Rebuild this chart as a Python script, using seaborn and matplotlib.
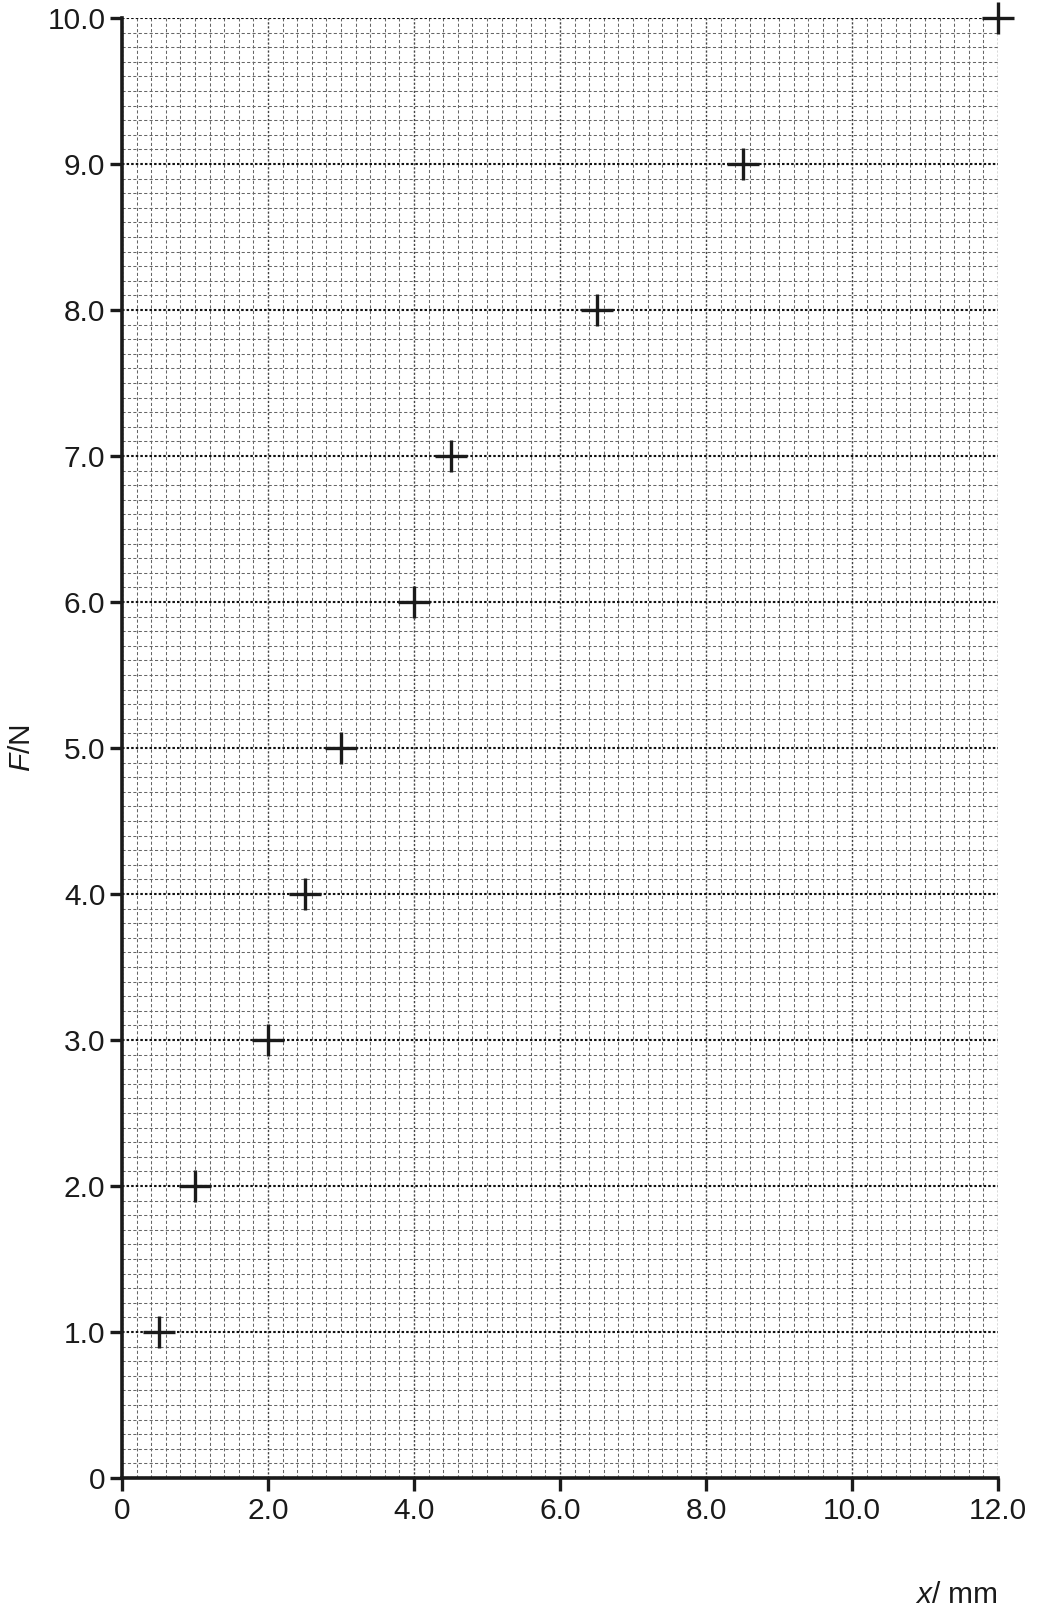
import numpy as np
import pandas as pd
import matplotlib
matplotlib.use("Agg")
import matplotlib.pyplot as plt
from matplotlib.ticker import MultipleLocator, FixedLocator
import seaborn as sns

# data
x_mm = [0.5, 1.0, 2.0, 2.5, 3.0, 4.0, 4.5, 6.5, 8.5, 12.0]
F_N = [1.0, 2.0, 3.0, 4.0, 5.0, 6.0, 7.0, 8.0, 9.0, 10.0]
x_ticks = [0, 2, 4, 6, 8, 10, 12]
x_tick_labels = ["0", "2.0", "4.0", "6.0", "8.0", "10.0", "12.0"]
y_ticks = [0, 1, 2, 3, 4, 5, 6, 7, 8, 9, 10]
y_tick_labels = ["0", "1.0", "2.0", "3.0", "4.0", "5.0", "6.0", "7.0", "8.0", "9.0", "10.0"]

sns.set_style("white")
plt.rcParams["font.family"] = ["Liberation Sans", "DejaVu Sans"]
plt.rcParams["mathtext.fontset"] = "custom"
plt.rcParams["mathtext.it"] = "Liberation Sans:italic"
plt.rcParams["mathtext.rm"] = "Liberation Sans"

df = pd.DataFrame({"x": x_mm, "F": F_N})

fig = plt.figure(figsize=(10.64, 16.18), dpi=100)
ax = fig.add_axes([122 / 1064, 1 - 1478 / 1618, (998 - 122) / 1064, (1478 - 18) / 1618])

ax.set_xlim(0, 12)
ax.set_ylim(0, 10)

# grid
ax.xaxis.set_major_locator(FixedLocator(x_ticks))
ax.yaxis.set_major_locator(FixedLocator(y_ticks))
ax.xaxis.set_minor_locator(MultipleLocator(0.2))
ax.yaxis.set_minor_locator(MultipleLocator(0.1))
ax.grid(which="minor", color="#666666", linestyle=(0, (3.0, 2.2)), linewidth=0.75)
ax.grid(which="major", axis="y", color="#111111", linestyle=(0, (1.2, 1.0)), linewidth=1.5)
ax.grid(which="major", axis="x", color="#444444", linestyle=(0, (1.6, 1.3)), linewidth=1.0)
ax.set_axisbelow(True)

sns.scatterplot(data=df, x="x", y="F", marker="+", s=500, color="#1a1a1a",
                linewidth=2.4, ax=ax, clip_on=False, zorder=5, legend=False)

ax.set_xticklabels(x_tick_labels)
ax.set_yticklabels(y_tick_labels)
ax.tick_params(which="major", bottom=True, left=True, direction="out", length=9, width=2.4,
               color="#1a1a1a", labelsize=21.5, labelcolor="#1a1a1a", pad=3)
ax.tick_params(axis="x", which="major", pad=5)
ax.tick_params(which="minor", length=0)

for s in ["top", "right"]:
    ax.spines[s].set_visible(False)
for s in ["left", "bottom"]:
    ax.spines[s].set_linewidth(2.6)
    ax.spines[s].set_color("#1a1a1a")

ax.set_xlabel(r"$\it{x}$/ mm", fontsize=21.5, loc="right", labelpad=40, color="#1a1a1a")
ax.set_ylabel(r"$\it{F}$/N", fontsize=21.5, labelpad=8, color="#1a1a1a")

fig.savefig("out.png", dpi=100)
